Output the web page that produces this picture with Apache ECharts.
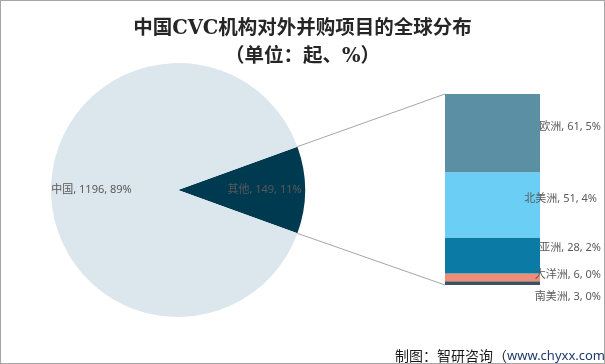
<!DOCTYPE html>
<html>
<head>
<meta charset="utf-8">
<script src="https://cdn.jsdelivr.net/npm/echarts@6/dist/echarts.min.js"></script>
<style>
html,body{margin:0;padding:0;background:#fff;}
#c{width:605px;height:364px;box-sizing:border-box;border:1px solid #a6a6a6;}
</style>
</head>
<body>
<div id="c"></div>
<script>
// ---- data ----
const titleLine1 = '中国CVC机构对外并购项目的全球分布';
const titleLine2 = '（单位：起、%）';
const pieNames = ['其他', '中国'];
const pieValues = [149, 1196];
const regionNames = ['南美洲', '大洋洲', '亚洲', '北美洲', '欧洲'];
const regionValues = [3, 6, 28, 51, 61];
const sourceText = '制图：智研咨询（';
const sourceUrl = 'www.chyxx.com';

// ---- styles ----
const pieColors = ['#003A50', '#DCE6ED'];
const regionColors = ['#3B5361', '#EE8E78', '#0B7AA5', '#6BCFF5', '#5B8FA4'];
const regionLabelDy = [14, -2, -8, -6, -6];
const regionLabelDx = [61, 61, 61, 57, 61];
const labelColor = '#595959';
const labelFont = '"Noto Sans", "Noto Sans CJK SC", sans-serif';

const pieTotal = pieValues.reduce((a, b) => a + b, 0);
const otherTotal = regionValues.reduce((a, b) => a + b, 0);
const pct = v => Math.round(v / pieTotal * 100) + '%';

const pieCenter = [177, 189];
const pieR = 127;
const halfAngle = 180 * pieValues[0] / pieTotal;
const grid = {left: 444, top: 93, width: 95, height: 191};

const rad = halfAngle * Math.PI / 180;
const p1 = [pieCenter[0] + pieR * Math.cos(rad), pieCenter[1] - pieR * Math.sin(rad)];
const p2 = [pieCenter[0] + pieR * Math.cos(rad), pieCenter[1] + pieR * Math.sin(rad)];

const chart = echarts.init(document.getElementById('c'));
chart.setOption({
  backgroundColor: '#fff',
  animation: false,
  title: [{
    text: titleLine1 + '\n' + titleLine2,
    left: 'center',
    top: 9,
    textStyle: {
      fontFamily: '"DejaVu Serif", "Noto Sans CJK SC", serif',
      fontSize: 19.5, fontWeight: 'bold', color: '#262626', lineHeight: 28
    }
  }, {
    text: '{a|' + sourceText + '}{b|' + sourceUrl + '}{a|）}',
    left: 389,
    top: 343,
    textStyle: {
      fontWeight: 'normal',
      rich: {
        a: {fontFamily: '"Noto Sans CJK SC", sans-serif', fontSize: 14, fontWeight: 'normal', color: '#1a1a1a'},
        b: {fontFamily: '"Noto Sans", sans-serif', fontSize: 13, fontWeight: 'normal', color: '#1F3A6B'}
      }
    }
  }],
  grid: grid,
  xAxis: {type: 'category', data: [pieNames[0]], show: false},
  yAxis: {type: 'value', min: 0, max: otherTotal, show: false},
  graphic: [
    {type: 'line', shape: {x1: p1[0], y1: p1[1], x2: grid.left, y2: grid.top}, style: {stroke: '#A6A6A6', lineWidth: 1}, z: 0},
    {type: 'line', shape: {x1: p2[0], y1: p2[1], x2: grid.left, y2: grid.top + grid.height}, style: {stroke: '#A6A6A6', lineWidth: 1}, z: 0}
  ],
  series: [{
    type: 'pie',
    center: pieCenter,
    radius: pieR,
    startAngle: halfAngle,
    clockwise: true,
    avoidLabelOverlap: false,
    data: pieNames.map((n, i) => ({name: n, value: pieValues[i], itemStyle: {color: pieColors[i]}})),
    label: {
      position: 'inside',
      color: labelColor,
      fontSize: 11,
      fontFamily: labelFont,
      formatter: p => p.name + ', ' + p.value + ', ' + pct(p.value)
    },
    labelLayout: p => ({dx: p.dataIndex === 0 ? 20 : -20}),
    labelLine: {show: false},
    emphasis: {disabled: true}
  }].concat(regionNames.map((n, i) => ({
    type: 'bar',
    name: n,
    stack: 'other',
    barWidth: '100%',
    data: [regionValues[i]],
    itemStyle: {color: regionColors[i]},
    label: {
      show: true,
      position: 'insideRight',
      distance: 0,
      offset: [regionLabelDx[i], regionLabelDy[i]],
      color: labelColor,
      fontSize: 11,
      fontFamily: labelFont,
      formatter: p => n + ', ' + p.value + ', ' + pct(p.value)
    },
    emphasis: {disabled: true}
  })))
});
</script>
</body>
</html>
